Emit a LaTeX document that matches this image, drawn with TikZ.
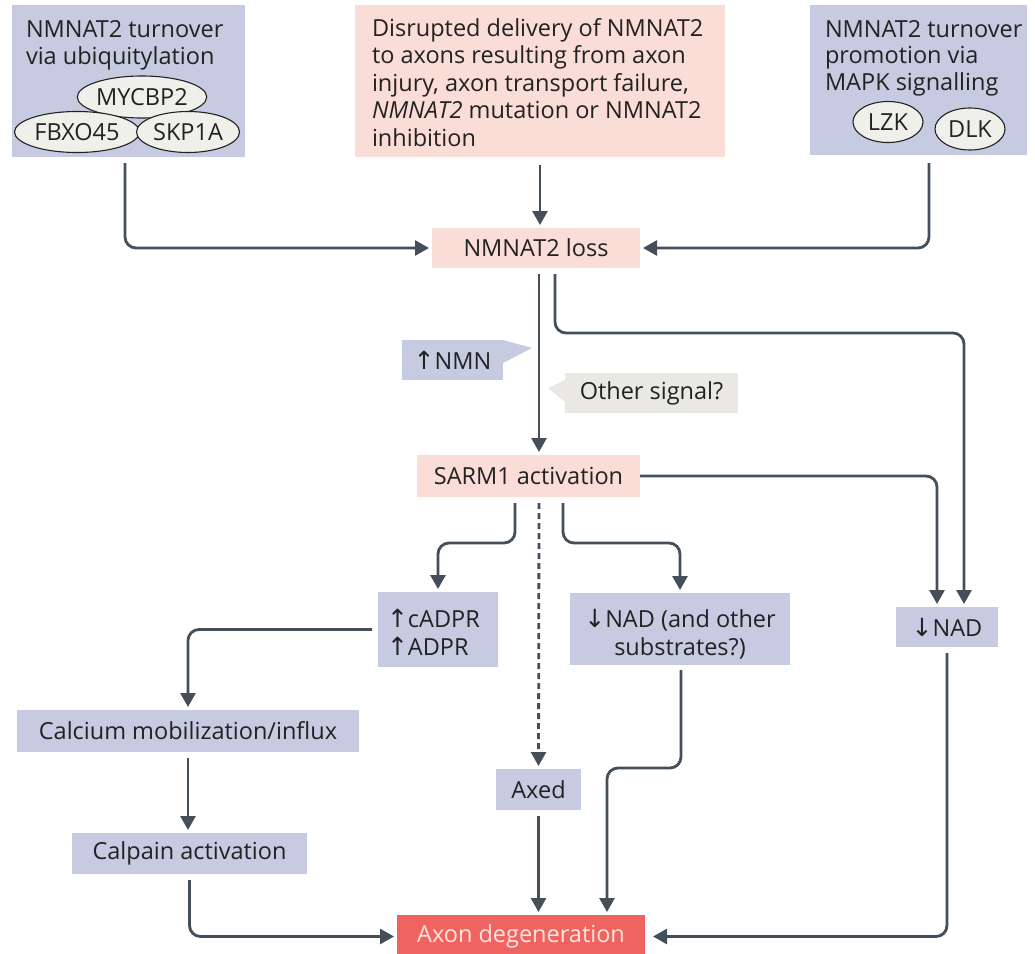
\documentclass[tikz,border=0pt]{standalone}
\usepackage{fontspec}
\setmainfont{Open Sans}
\newfontfamily\arrfont{DejaVu Sans}
\newcommand{\upar}{{\arrfont\fontsize{25}{27}\selectfont ↑}}
\newcommand{\dnar}{{\arrfont\fontsize{25}{27}\selectfont ↓}}
\usetikzlibrary{arrows.meta,shapes.geometric}
\definecolor{boxblue}{RGB}{198,203,225}
\definecolor{boxpink}{RGB}{250,221,214}
\definecolor{boxgray}{RGB}{233,232,228}
\definecolor{boxred}{RGB}{239,100,97}
\definecolor{linec}{RGB}{68,79,89}
\definecolor{txtc}{RGB}{34,34,34}
\definecolor{ellfill}{RGB}{240,240,235}
\definecolor{axontxt}{RGB}{253,228,222}
\begin{document}
\begin{tikzpicture}[x=1pt,y=-1pt,
  every node/.style={font=\fontsize{23.5}{27}\selectfont, text=txtc, inner sep=0pt, outer sep=0pt},
  bluebox/.style={fill=boxblue, rectangle, anchor=north west},
  pinkbox/.style={fill=boxpink, rectangle, anchor=north west},
  graybox/.style={fill=boxgray, rectangle, anchor=north west},
  redbox/.style={fill=boxred, rectangle, anchor=north west},
  ln/.style={anchor=base west},
  lnc/.style={anchor=base},
  ell/.style={ellipse, draw=txtc, line width=1.1pt, fill=ellfill},
  conn/.style={draw=linec, line width=2.8pt, rounded corners=11pt, shorten >=3pt,
    -{Triangle[length=14pt,width=15pt]}},
  dotconn/.style={conn, dash pattern=on 6pt off 4pt},
]
\useasboundingbox (0,0) rectangle (1035,953);
\fill[white] (0,0) rectangle (1035,953);

% ---- top boxes
\node[bluebox, minimum width=233pt, minimum height=152pt] (tl) at (12,5) {};
\node[ln] (tl1) at (26,37) {NMNAT2 turnover};
\node[ln] (tl2) at (26,64) {via ubiquitylation};
\node[ell, minimum width=126pt, minimum height=42pt] (myc) at (142,97) {MYCBP2};
\node[ell, minimum width=125pt, minimum height=41pt] (fbx) at (77,132) {FBXO45};
\node[ell, minimum width=103pt, minimum height=41pt] (skp) at (188,132) {SKP1A};

\node[pinkbox, minimum width=370pt, minimum height=152pt] (tm) at (355,5) {};
\node[ln] (tm1) at (372,36) {Disrupted delivery of NMNAT2};
\node[ln] (tm2) at (372,63.5) {to axons resulting from axon};
\node[ln] (tm3) at (372,91) {injury, axon transport failure,};
\node[ln] (tm4) at (372,118.5) {\textit{NMNAT2} mutation or NMNAT2};
\node[ln] (tm5) at (372,146) {inhibition};

\node[bluebox, minimum width=217pt, minimum height=150pt] (tr) at (810,5) {};
\node[ln] (tr1) at (825,37) {NMNAT2 turnover};
\node[ln] (tr2) at (825,63.5) {promotion via};
\node[ln] (tr3) at (825,90) {MAPK signalling};
\node[ell, minimum width=70pt, minimum height=41pt] (lzk) at (888,122) {LZK};
\node[ell, minimum width=70pt, minimum height=42pt] (dlk) at (970,129) {DLK};

% ---- middle
\node[pinkbox, minimum width=208pt, minimum height=40pt] (loss) at (432,228) {NMNAT2 loss};
\node[bluebox, minimum width=101pt, minimum height=40pt] (nmn) at (402,340) {\upar NMN};
\fill[boxblue] (503,340) -- (532,348) -- (503,363) -- cycle;
\node[graybox, minimum width=173pt, minimum height=40pt] (oth) at (565,373) {Other signal?};
\fill[boxgray] (565,380) -- (548,388) -- (565,402) -- cycle;

\node[pinkbox, minimum width=223pt, minimum height=42pt] (sarm) at (417,455) {SARM1 activation};

\node[bluebox, minimum width=120pt, minimum height=75pt] (cadpr) at (378,592) {};
\node[ln] (cad1) at (387,627) {\upar cADPR};
\node[ln] (cad2) at (387,655) {\upar ADPR};

\node[bluebox, minimum width=220pt, minimum height=72pt] (nadsub) at (570,593) {};
\node[lnc] (ns1) at (680,627) {\dnar NAD (and other};
\node[lnc] (ns2) at (680,655) {substrates?)};

\node[bluebox, minimum width=102pt, minimum height=40pt] (nad2) at (896,607) {\dnar NAD};

\node[bluebox, minimum width=342pt, minimum height=42pt] (calc) at (17,710) {Calcium mobilization/influx};
\node[bluebox, minimum width=235pt, minimum height=41pt] (calp) at (72,833) {Calpain activation};
\node[bluebox, minimum width=85pt, minimum height=41pt] (axed) at (496,769) {Axed};

\node[redbox, minimum width=248pt, minimum height=43pt, text=axontxt] (axon) at (397,915) {Axon degeneration};

% ---- corner coordinates
\coordinate (b2c) at (964,333);
\coordinate (c2c) at (438,543);
\coordinate (c4c) at (680,543);
\coordinate (e2c) at (607,768);

% ---- connectors
\draw[conn] ([xshift=-3.5pt,yshift=-6pt]tl.south) |- (loss.west);
\draw[conn] ([yshift=-8pt]tm.south) -- (tm.south |- loss.north);
\draw[conn] ([xshift=10.5pt,yshift=-8pt]tr.south) |- (loss.east);

\draw[conn] ([xshift=3pt,yshift=-6pt]loss.south) -- ([xshift=3pt]loss.south |- sarm.north);
\draw[conn] ([xshift=19pt,yshift=-6pt]loss.south) |- (b2c) -- ([xshift=17pt]nad2.north);

\draw[conn] (sarm.east) -| ([xshift=-10pt]nad2.north);
\draw[conn] ([xshift=-13.5pt,yshift=-6pt]sarm.south) |- (c2c) -- (cadpr.north);
\draw[dotconn] ([xshift=10.5pt,yshift=-6pt]sarm.south) -- (axed.north);
\draw[conn] ([xshift=34.5pt,yshift=-6pt]sarm.south) |- (c4c) -- (nadsub.north);

\draw[conn] ([xshift=-6pt]cadpr.west) -| (calc.north);
\draw[conn] ([yshift=-6pt]calc.south) -- (calc.south |- calp.north);
\draw[conn] ([yshift=-6pt]calp.south) |- (axon.west);

\draw[conn] ([yshift=-6pt]axed.south) -- (axed.south |- axon.north);
\draw[conn] ([xshift=1pt,yshift=-5pt]nadsub.south) |- (e2c) -- (e2c |- axon.north);
\draw[conn] ([yshift=-6pt]nad2.south) |- ([xshift=5pt]axon.east);
\end{tikzpicture}
\end{document}
